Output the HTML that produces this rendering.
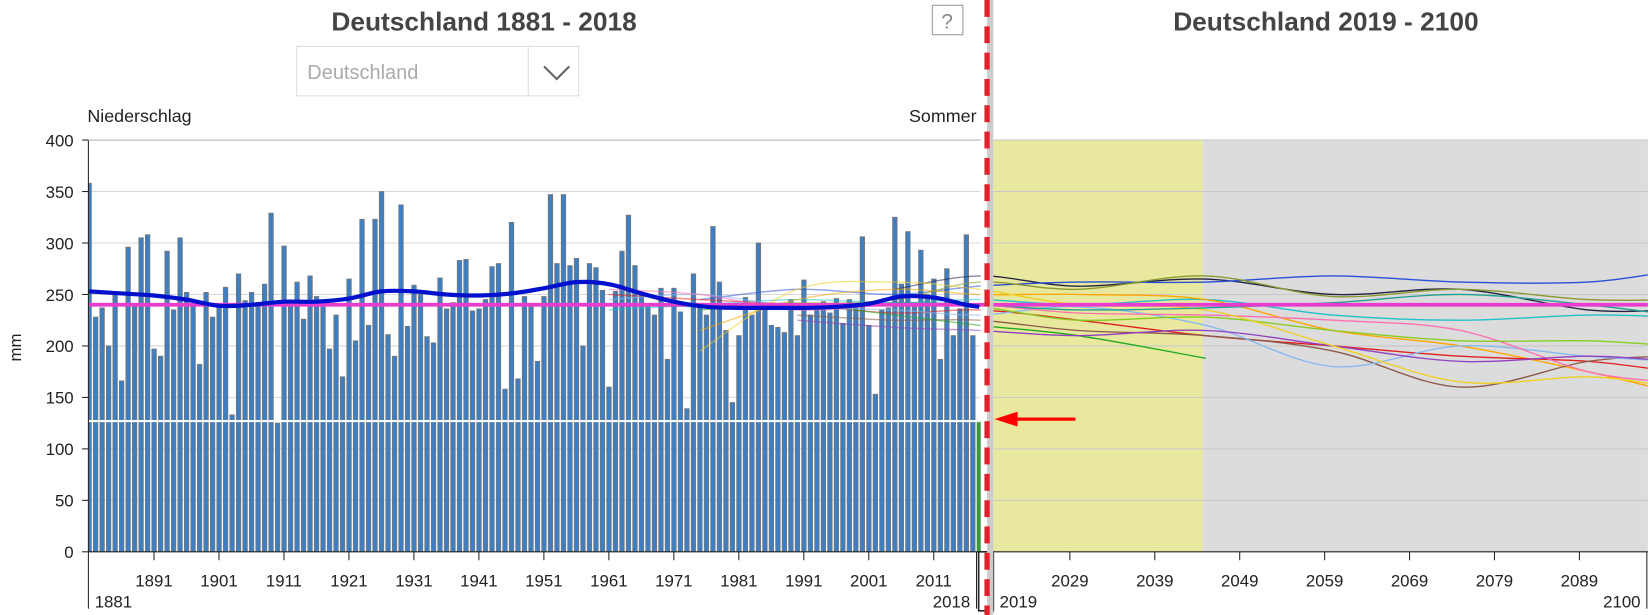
<!DOCTYPE html>
<html><head><meta charset="utf-8"><style>
html,body{margin:0;padding:0;background:#fff;width:1650px;height:615px;overflow:hidden}
svg{display:block;font-family:"Liberation Sans",Arial,sans-serif}
</style></head><body>
<svg id="chart" width="1650" height="615" viewBox="0 0 1568 584" preserveAspectRatio="none">
<defs>
<clipPath id="clipL"><rect x="84" y="133" width="848" height="391"/></clipPath>
<clipPath id="clipR"><rect x="944" y="133" width="622" height="391"/></clipPath>
</defs>
<text x="460" y="29" text-anchor="middle" font-size="25" font-weight="bold" fill="#444">Deutschland 1881 - 2018</text>
<text x="1260" y="29" text-anchor="middle" font-size="25" font-weight="bold" fill="#444">Deutschland 2019 - 2100</text>
<g><rect x="886" y="5" width="29" height="28" fill="#fff" stroke="#999"/><text x="900" y="27" text-anchor="middle" font-size="20" fill="#888">?</text></g>
<g><rect x="282" y="44" width="268" height="47" fill="#fff" stroke="#ddd"/><line x1="502" y1="44" x2="502" y2="91" stroke="#ddd"/><text x="292" y="75" font-size="19" fill="#aaa">Deutschland</text><polyline points="517,63 529,75 541,63" fill="none" stroke="#666" stroke-width="2"/></g>
<text x="83" y="116" font-size="17" fill="#222">Niederschlag</text>
<text x="928" y="116" text-anchor="end" font-size="17" fill="#222">Sommer</text>
<text transform="translate(20,330) rotate(-90)" text-anchor="middle" font-size="16" fill="#222">mm</text>
<rect x="944" y="133" width="199" height="391" fill="#e8e89e"/>
<rect x="1143" y="133" width="423" height="391" fill="#dcdcdc"/>
<g id="grid"></g>
<g id="bars" clip-path="url(#clipL)"></g>
<g id="projL" clip-path="url(#clipL)"></g>
<g id="projR" clip-path="url(#clipR)"></g>
<g id="means"></g>
<g id="axes"></g>
<rect x="930" y="524" width="14" height="56" fill="none" stroke="#222" stroke-width="1.5"/>
<line x1="941" y1="0" x2="941" y2="584" stroke="#ccc" stroke-width="6"/>
<line x1="938" y1="0" x2="938" y2="584" stroke="#e0202a" stroke-width="5" stroke-dasharray="16,9"/>
<g><line x1="960" y1="398" x2="1022" y2="398" stroke="#f00" stroke-width="3"/><polygon points="945,398 967,391 967,405" fill="#f00"/></g>
</svg>
<script>
const years=[];for(let y=1881;y<=2018;y++)years.push(y);
const precip=[358,228,237,200,250,166,296,240,305,308,197,190,292,235,305,252,240,182,252,228,238,257,133,270,244,252,240,260,329,125,297,240,262,226,268,248,240,197,230,170,265,205,323,220,323,350,211,190,337,219,259,250,209,203,266,236,242,283,284,234,236,245,277,280,158,320,168,248,238,185,248,347,280,347,278,285,200,280,276,254,160,253,292,327,278,250,240,230,256,187,256,233,139,270,240,230,316,262,215,145,210,247,230,300,240,220,218,213,245,210,264,230,240,243,232,246,222,245,240,306,220,153,235,237,325,260,311,238,293,250,265,187,275,210,236,308,210,127];
const smoothYears=[1881,1886,1891,1896,1901,1906,1911,1916,1921,1926,1931,1936,1941,1946,1951,1956,1961,1966,1971,1976,1981,1986,1991,1996,2001,2006,2011,2016,2018];
const smoothVals=[253,251,249,245,239,240,243,243,246,253,253,250,249,251,256,262,260,251,243,238,237,237,237,238,241,248,247,240,238];
const refMean=240;
const currentValue=127;
const yTicks=[0,50,100,150,200,250,300,350,400];
const xTicksL=[1891,1901,1911,1921,1931,1941,1951,1961,1971,1981,1991,2001,2011];
const xTicksR=[2029,2039,2049,2059,2069,2079,2089];
const projYears=[1961,1975,1990,2005,2018,2030,2045,2060,2075,2090,2100];
const projColors=["#222244","#2a4fd8","#8a9a30","#22c0c8","#ffa500","#e02020","#8b5a4a","#22aa22","#88b8f0","#ff70b0","#9040c0","#88cc22","#f0d020","#20a090"];
const projSeries=[
[null,null,null,255,268,258,265,250,255,235,235],
[null,245,255,250,258,262,262,268,262,262,273],
[null,null,240,245,262,255,268,248,255,245,245],
[235,240,245,242,245,240,245,230,225,230,228],
[null,215,245,255,250,250,245,215,200,175,155],
[250,245,240,232,235,225,210,200,190,185,175],
[null,null,230,225,225,215,210,195,160,185,190],
[null,235,240,230,220,210,188,null,null,null,null],
[245,250,238,235,230,238,220,180,200,190,185],
[255,250,235,240,240,232,230,225,215,175,165],
[null,null,225,218,215,210,215,200,185,190,185],
[null,238,242,240,238,225,228,215,205,205,200],
[null,195,255,262,255,240,235,200,165,170,160],
[240,238,236,242,240,235,237,242,250,240,230]];
const NS="http://www.w3.org/2000/svg";
function mk(tag,attrs,parent){const e=document.createElementNS(NS,tag);for(const k in attrs)e.setAttribute(k,attrs[k]);parent.appendChild(e);return e;}
const yv=v=>524-v*0.9775;
const xL=y=>84.6+(y-1881)*6.175;
const xR=y=>936+(y-2019)*8.07;
const xAny=y=>y<=2018?xL(y):xR(y);
const grid=document.getElementById('grid'),axes=document.getElementById('axes');
yTicks.forEach(t=>{
 if(t>0){const g1=mk('line',{x1:84,x2:932,y1:yv(t),y2:yv(t),stroke:'#d8d8d8'},grid);
 
 
 const g2=mk('line',{x1:944,x2:1566,y1:yv(t),y2:yv(t),stroke:'#c8c8c8'},grid);
 
 }
 const tl=mk('text',{x:70,y:yv(t)+6,'text-anchor':'end','font-size':16,fill:'#222'},axes);tl.textContent=t;
 
 
 mk('line',{x1:78,x2:84,y1:yv(t),y2:yv(t),stroke:'#222'},axes);
});
const bars=document.getElementById('bars');
years.forEach((y,i)=>{const v=precip[i];const last=i===years.length-1;
 const r=mk('rect',{x:xL(y)-2,y:yv(v),width:4.2,height:524-yv(v),fill:last?'#3a9a3a':'#3d7fc4',stroke:last?'#3a9a3a':'#777','stroke-width':0.8},bars);
 
 });
function smoothPath(pts){let d='M'+pts[0][0]+','+pts[0][1];for(let i=0;i<pts.length-1;i++){const p0=pts[i-1]||pts[i],p1=pts[i],p2=pts[i+1],p3=pts[i+2]||p2;
 d+=' C'+(p1[0]+(p2[0]-p0[0])/6)+','+(p1[1]+(p2[1]-p0[1])/6)+' '+(p2[0]-(p3[0]-p1[0])/6)+','+(p2[1]-(p3[1]-p1[1])/6)+' '+p2[0]+','+p2[1];}return d;}
const pL=document.getElementById('projL'),pR=document.getElementById('projR');
projSeries.forEach((s,k)=>{const pts=[];s.forEach((v,i)=>{if(v!==null)pts.push([xAny(projYears[i]),yv(v)]);});
 const d=smoothPath(pts);
 const a=mk('path',{d:d,fill:'none',stroke:projColors[k],'stroke-width':1.3,opacity:0.55},pL);
 
 
 const b=mk('path',{d:d,fill:'none',stroke:projColors[k],'stroke-width':1.3},pR);
 
 });
const means=document.getElementById('means');
const wl=mk('line',{x1:84,x2:932,y1:yv(currentValue),y2:yv(currentValue),stroke:'#fff','stroke-width':2},means);


const ml=mk('line',{x1:84,x2:1566,y1:yv(refMean),y2:yv(refMean),stroke:'#e83ccf','stroke-width':3.5},means);


const sp=mk('path',{d:smoothPath(smoothYears.map((y,i)=>[xL(y),yv(smoothVals[i])])),fill:'none',stroke:'#0010cc','stroke-width':4},means);


mk('line',{x1:84,x2:84,y1:133,y2:524,stroke:'#222'},axes);
mk('line',{x1:84,x2:932,y1:133,y2:133,stroke:'#bbb'},axes);
mk('line',{x1:84,x2:1566,y1:524,y2:524,stroke:'#222'},axes);
xTicksL.forEach(y=>{mk('line',{x1:xL(y),x2:xL(y),y1:524,y2:532,stroke:'#222'},axes);
 const t=mk('text',{x:xL(y),y:557,'text-anchor':'middle','font-size':16,fill:'#222'},axes);t.textContent=y;
 
 });
xTicksR.forEach(y=>{mk('line',{x1:xR(y),x2:xR(y),y1:524,y2:532,stroke:'#222'},axes);
 const t=mk('text',{x:xR(y),y:557,'text-anchor':'middle','font-size':16,fill:'#222'},axes);t.textContent=y;
 
 });
[[84,'1881','start'],[928,'2018','end'],[944,'2019','start'],[1565,'2100','end']].forEach(([x,l,a])=>{
 mk('line',{x1:x,x2:x,y1:524,y2:578,stroke:'#222'},axes);
 const t=mk('text',{x:a==='start'?x+6:x-6,y:577,'text-anchor':a,'font-size':16,fill:'#222'},axes);t.textContent=l;
 
 });
</script>
</body></html>
